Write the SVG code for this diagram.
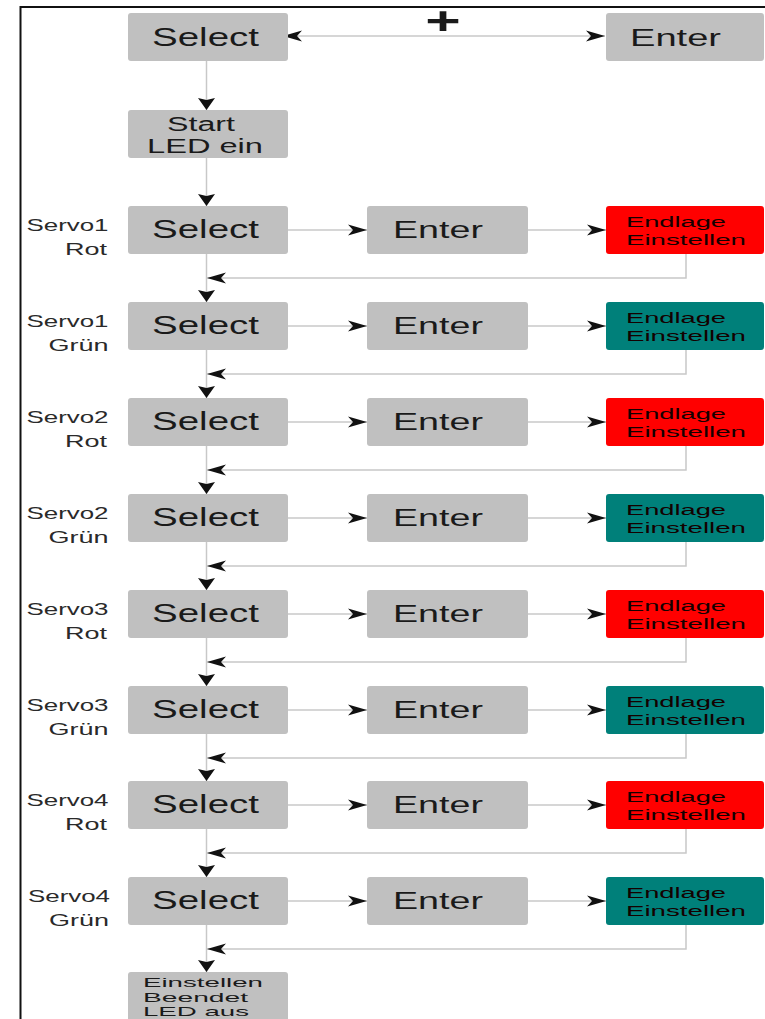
<svg xmlns="http://www.w3.org/2000/svg" width="765" height="1019" viewBox="0 0 765 1019">
<style>
.box{fill:#c0c0c0;}
.red{fill:#ff0000;}
.teal{fill:#00807a;}
.t{font-family:"Liberation Sans",Arial,sans-serif;fill:#1a1a1a;}
.big{font-size:25px;}
.ent{font-size:24px;}
.small{font-size:15.5px;fill:#140000;}
.fin{font-size:13.5px;fill:#1a1a1a;}
.lab{font-size:17px;fill:#2a2a2a;text-anchor:end;}
.mid{font-size:19.5px;}
.c{fill:none;stroke:#c8c8c8;stroke-width:1.5;}
</style>
<defs>
<marker id="ah" markerUnits="userSpaceOnUse" markerWidth="20" markerHeight="11" refX="19" refY="5.5" orient="auto" overflow="visible"><path d="M0,0 L19,5.5 L0,11 L5,5.5 z" fill="#111"/></marker>
<marker id="ahs" markerUnits="userSpaceOnUse" markerWidth="20" markerHeight="11" refX="19" refY="5.5" orient="auto-start-reverse" overflow="visible"><path d="M0,0 L19,5.5 L0,11 L5,5.5 z" fill="#111"/></marker>
<marker id="av" markerUnits="userSpaceOnUse" markerWidth="13" markerHeight="17" refX="12" refY="8.5" orient="auto" overflow="visible"><path d="M0,0 L12,8.5 L0,17 L2,8.5 z" fill="#111"/></marker>
</defs>
<rect width="765" height="1019" fill="#fff"/>
<rect x="20.5" y="7" width="800" height="1100" fill="none" stroke="#111" stroke-width="2"/>

<g id="connectors">
<line class="c" x1="283" y1="36" x2="605" y2="36" marker-start="url(#ahs)" marker-end="url(#ah)"/>
<line class="c" x1="206.5" y1="61" x2="206.5" y2="110" marker-end="url(#av)"/>
<line class="c" x1="206.5" y1="158" x2="206.5" y2="206" marker-end="url(#av)"/>

<line class="c" x1="288" y1="230" x2="367" y2="230" marker-end="url(#ah)"/>
<line class="c" x1="528" y1="230" x2="606" y2="230" marker-end="url(#ah)"/>
<polyline class="c" points="686,254 686,278 207,278" marker-end="url(#ah)"/>
<line class="c" x1="206.5" y1="254" x2="206.5" y2="302" marker-end="url(#av)"/>

<line class="c" x1="288" y1="326" x2="367" y2="326" marker-end="url(#ah)"/>
<line class="c" x1="528" y1="326" x2="606" y2="326" marker-end="url(#ah)"/>
<polyline class="c" points="686,350 686,374 207,374" marker-end="url(#ah)"/>
<line class="c" x1="206.5" y1="350" x2="206.5" y2="398" marker-end="url(#av)"/>

<line class="c" x1="288" y1="422" x2="367" y2="422" marker-end="url(#ah)"/>
<line class="c" x1="528" y1="422" x2="606" y2="422" marker-end="url(#ah)"/>
<polyline class="c" points="686,446 686,470 207,470" marker-end="url(#ah)"/>
<line class="c" x1="206.5" y1="446" x2="206.5" y2="494" marker-end="url(#av)"/>

<line class="c" x1="288" y1="518" x2="367" y2="518" marker-end="url(#ah)"/>
<line class="c" x1="528" y1="518" x2="606" y2="518" marker-end="url(#ah)"/>
<polyline class="c" points="686,542 686,566 207,566" marker-end="url(#ah)"/>
<line class="c" x1="206.5" y1="542" x2="206.5" y2="590" marker-end="url(#av)"/>

<line class="c" x1="288" y1="614" x2="367" y2="614" marker-end="url(#ah)"/>
<line class="c" x1="528" y1="614" x2="606" y2="614" marker-end="url(#ah)"/>
<polyline class="c" points="686,638 686,662 207,662" marker-end="url(#ah)"/>
<line class="c" x1="206.5" y1="638" x2="206.5" y2="686" marker-end="url(#av)"/>

<line class="c" x1="288" y1="710" x2="367" y2="710" marker-end="url(#ah)"/>
<line class="c" x1="528" y1="710" x2="606" y2="710" marker-end="url(#ah)"/>
<polyline class="c" points="686,734 686,758 207,758" marker-end="url(#ah)"/>
<line class="c" x1="206.5" y1="734" x2="206.5" y2="781" marker-end="url(#av)"/>

<line class="c" x1="288" y1="805" x2="367" y2="805" marker-end="url(#ah)"/>
<line class="c" x1="528" y1="805" x2="606" y2="805" marker-end="url(#ah)"/>
<polyline class="c" points="686,829 686,853 207,853" marker-end="url(#ah)"/>
<line class="c" x1="206.5" y1="829" x2="206.5" y2="877" marker-end="url(#av)"/>

<line class="c" x1="288" y1="901" x2="367" y2="901" marker-end="url(#ah)"/>
<line class="c" x1="528" y1="901" x2="606" y2="901" marker-end="url(#ah)"/>
<polyline class="c" points="686,925 686,949 207,949" marker-end="url(#ah)"/>
<line class="c" x1="206.5" y1="925" x2="206.5" y2="972" marker-end="url(#av)"/>
</g>

<g id="plus"><text class="t" transform="translate(443,34) scale(1.6,1)" font-size="38" font-weight="bold" text-anchor="middle" fill="#111">+</text></g>

<g id="select-top"><rect class="box" x="128" y="13" width="160" height="48" rx="3"/><text class="t big" x="152" y="45.5" textLength="107" lengthAdjust="spacingAndGlyphs">Select</text></g>
<g id="enter-top"><rect class="box" x="606" y="13" width="158" height="48" rx="3"/><text class="t ent" x="630" y="45.5" textLength="91" lengthAdjust="spacingAndGlyphs">Enter</text></g>
<g id="start"><rect class="box" x="128" y="110" width="160" height="48" rx="3"/><text class="t mid" x="167" y="130.7" textLength="68" lengthAdjust="spacingAndGlyphs">Start</text><text class="t mid" x="147" y="152.7" textLength="116" lengthAdjust="spacingAndGlyphs">LED ein</text></g>

<g id="row1">
<text class="t lab" x="108.5" y="230.5" textLength="82" lengthAdjust="spacingAndGlyphs">Servo1</text>
<text class="t lab" x="107" y="254.5" textLength="42" lengthAdjust="spacingAndGlyphs">Rot</text>
<rect class="box" x="128" y="206" width="160" height="48" rx="3"/><text class="t big" x="152" y="238" textLength="107" lengthAdjust="spacingAndGlyphs">Select</text>
<rect class="box" x="367" y="206" width="161" height="48" rx="3"/><text class="t ent" x="393" y="238" textLength="90" lengthAdjust="spacingAndGlyphs">Enter</text>
<rect class="red" x="606" y="206" width="158" height="48" rx="3"/><text class="t small" x="626" y="227" textLength="100" lengthAdjust="spacingAndGlyphs">Endlage</text><text class="t small" x="626" y="245" textLength="120" lengthAdjust="spacingAndGlyphs">Einstellen</text>
</g>

<g id="row2">
<text class="t lab" x="108.5" y="326.5" textLength="82" lengthAdjust="spacingAndGlyphs">Servo1</text>
<text class="t lab" x="108.5" y="350.5" textLength="60" lengthAdjust="spacingAndGlyphs">Grün</text>
<rect class="box" x="128" y="302" width="160" height="48" rx="3"/><text class="t big" x="152" y="334" textLength="107" lengthAdjust="spacingAndGlyphs">Select</text>
<rect class="box" x="367" y="302" width="161" height="48" rx="3"/><text class="t ent" x="393" y="334" textLength="90" lengthAdjust="spacingAndGlyphs">Enter</text>
<rect class="teal" x="606" y="302" width="158" height="48" rx="3"/><text class="t small" x="626" y="323" textLength="100" lengthAdjust="spacingAndGlyphs">Endlage</text><text class="t small" x="626" y="341" textLength="120" lengthAdjust="spacingAndGlyphs">Einstellen</text>
</g>

<g id="row3">
<text class="t lab" x="108.5" y="422.5" textLength="82" lengthAdjust="spacingAndGlyphs">Servo2</text>
<text class="t lab" x="107" y="446.5" textLength="42" lengthAdjust="spacingAndGlyphs">Rot</text>
<rect class="box" x="128" y="398" width="160" height="48" rx="3"/><text class="t big" x="152" y="430" textLength="107" lengthAdjust="spacingAndGlyphs">Select</text>
<rect class="box" x="367" y="398" width="161" height="48" rx="3"/><text class="t ent" x="393" y="430" textLength="90" lengthAdjust="spacingAndGlyphs">Enter</text>
<rect class="red" x="606" y="398" width="158" height="48" rx="3"/><text class="t small" x="626" y="419" textLength="100" lengthAdjust="spacingAndGlyphs">Endlage</text><text class="t small" x="626" y="437" textLength="120" lengthAdjust="spacingAndGlyphs">Einstellen</text>
</g>

<g id="row4">
<text class="t lab" x="108.5" y="518.5" textLength="82" lengthAdjust="spacingAndGlyphs">Servo2</text>
<text class="t lab" x="108.5" y="542.5" textLength="60" lengthAdjust="spacingAndGlyphs">Grün</text>
<rect class="box" x="128" y="494" width="160" height="48" rx="3"/><text class="t big" x="152" y="526" textLength="107" lengthAdjust="spacingAndGlyphs">Select</text>
<rect class="box" x="367" y="494" width="161" height="48" rx="3"/><text class="t ent" x="393" y="526" textLength="90" lengthAdjust="spacingAndGlyphs">Enter</text>
<rect class="teal" x="606" y="494" width="158" height="48" rx="3"/><text class="t small" x="626" y="515" textLength="100" lengthAdjust="spacingAndGlyphs">Endlage</text><text class="t small" x="626" y="533" textLength="120" lengthAdjust="spacingAndGlyphs">Einstellen</text>
</g>

<g id="row5">
<text class="t lab" x="108.5" y="614.5" textLength="82" lengthAdjust="spacingAndGlyphs">Servo3</text>
<text class="t lab" x="107" y="638.5" textLength="42" lengthAdjust="spacingAndGlyphs">Rot</text>
<rect class="box" x="128" y="590" width="160" height="48" rx="3"/><text class="t big" x="152" y="622" textLength="107" lengthAdjust="spacingAndGlyphs">Select</text>
<rect class="box" x="367" y="590" width="161" height="48" rx="3"/><text class="t ent" x="393" y="622" textLength="90" lengthAdjust="spacingAndGlyphs">Enter</text>
<rect class="red" x="606" y="590" width="158" height="48" rx="3"/><text class="t small" x="626" y="611" textLength="100" lengthAdjust="spacingAndGlyphs">Endlage</text><text class="t small" x="626" y="629" textLength="120" lengthAdjust="spacingAndGlyphs">Einstellen</text>
</g>

<g id="row6">
<text class="t lab" x="108.5" y="710.5" textLength="82" lengthAdjust="spacingAndGlyphs">Servo3</text>
<text class="t lab" x="108.5" y="734.5" textLength="60" lengthAdjust="spacingAndGlyphs">Grün</text>
<rect class="box" x="128" y="686" width="160" height="48" rx="3"/><text class="t big" x="152" y="718" textLength="107" lengthAdjust="spacingAndGlyphs">Select</text>
<rect class="box" x="367" y="686" width="161" height="48" rx="3"/><text class="t ent" x="393" y="718" textLength="90" lengthAdjust="spacingAndGlyphs">Enter</text>
<rect class="teal" x="606" y="686" width="158" height="48" rx="3"/><text class="t small" x="626" y="707" textLength="100" lengthAdjust="spacingAndGlyphs">Endlage</text><text class="t small" x="626" y="725" textLength="120" lengthAdjust="spacingAndGlyphs">Einstellen</text>
</g>

<g id="row7">
<text class="t lab" x="108.5" y="805.5" textLength="82" lengthAdjust="spacingAndGlyphs">Servo4</text>
<text class="t lab" x="107" y="829.5" textLength="42" lengthAdjust="spacingAndGlyphs">Rot</text>
<rect class="box" x="128" y="781" width="160" height="48" rx="3"/><text class="t big" x="152" y="813" textLength="107" lengthAdjust="spacingAndGlyphs">Select</text>
<rect class="box" x="367" y="781" width="161" height="48" rx="3"/><text class="t ent" x="393" y="813" textLength="90" lengthAdjust="spacingAndGlyphs">Enter</text>
<rect class="red" x="606" y="781" width="158" height="48" rx="3"/><text class="t small" x="626" y="802" textLength="100" lengthAdjust="spacingAndGlyphs">Endlage</text><text class="t small" x="626" y="820" textLength="120" lengthAdjust="spacingAndGlyphs">Einstellen</text>
</g>

<g id="row8">
<text class="t lab" x="110" y="901.5" textLength="82" lengthAdjust="spacingAndGlyphs">Servo4</text>
<text class="t lab" x="109" y="925.5" textLength="60" lengthAdjust="spacingAndGlyphs">Grün</text>
<rect class="box" x="128" y="877" width="160" height="48" rx="3"/><text class="t big" x="152" y="909" textLength="107" lengthAdjust="spacingAndGlyphs">Select</text>
<rect class="box" x="367" y="877" width="161" height="48" rx="3"/><text class="t ent" x="393" y="909" textLength="90" lengthAdjust="spacingAndGlyphs">Enter</text>
<rect class="teal" x="606" y="877" width="158" height="48" rx="3"/><text class="t small" x="626" y="898" textLength="100" lengthAdjust="spacingAndGlyphs">Endlage</text><text class="t small" x="626" y="916" textLength="120" lengthAdjust="spacingAndGlyphs">Einstellen</text>
</g>

<g id="end">
<rect class="box" x="128" y="972" width="160" height="60" rx="3"/>
<text class="t fin" x="143" y="987" textLength="120" lengthAdjust="spacingAndGlyphs">Einstellen</text>
<text class="t fin" x="143" y="1001.5" textLength="105" lengthAdjust="spacingAndGlyphs">Beendet</text>
<text class="t fin" x="143" y="1016" textLength="106" lengthAdjust="spacingAndGlyphs">LED aus</text>
</g>
</svg>
